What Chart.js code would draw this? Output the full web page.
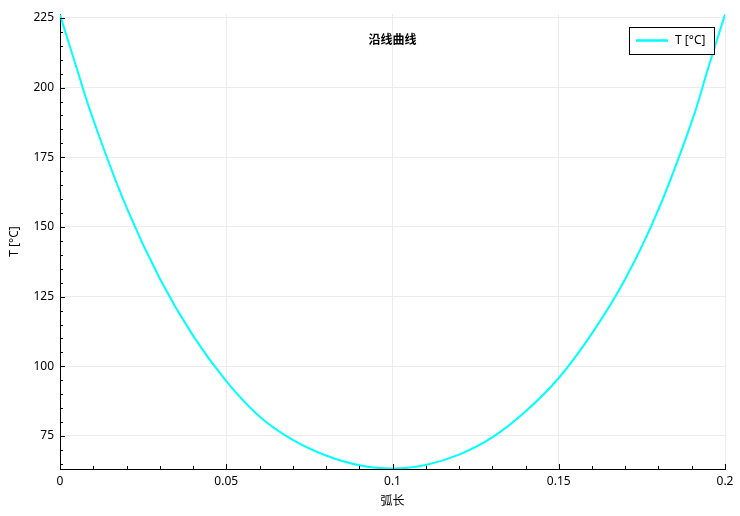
<!DOCTYPE html>
<html><head><meta charset="utf-8">
<script src="https://cdn.jsdelivr.net/npm/chart.js@4/dist/chart.umd.min.js"></script>
<style>html,body{margin:0;padding:0;background:#fff}#wrap{width:740px;height:516px;position:relative}</style>
</head><body><div id="wrap"><canvas id="c" width="740" height="516"></canvas></div>
<script>
// ---- data ----
const arcLength   = [0, 0.005, 0.01, 0.02, 0.03, 0.04, 0.05, 0.06, 0.07, 0.08, 0.09, 0.10,
                     0.11, 0.12, 0.13, 0.14, 0.15, 0.16, 0.17, 0.18, 0.19, 0.195, 0.20];
const temperature = [226.2, 207.0, 188.5, 157.0, 131.5, 111.0, 94.7, 82.0, 73.6, 68.0, 64.5, 63.3,
                     64.6, 68.3, 74.5, 83.8, 95.8, 111.8, 131.3, 156.3, 187.8, 207.2, 226.2];
const xTicks = [0, 0.05, 0.1, 0.15, 0.2];
const yTicks = [75, 100, 125, 150, 175, 200, 225];
const xMinorTicks = [0.01, 0.02, 0.03, 0.04, 0.06, 0.07, 0.08, 0.09, 0.11, 0.12, 0.13, 0.14, 0.16, 0.17, 0.18, 0.19];
const yMinorTicks = [65, 70, 80, 85, 90, 95, 105, 110, 115, 120, 130, 135, 140, 145, 155, 160, 165, 170, 180, 185, 190, 195, 205, 210, 215, 220];
const chartTitle = '沿线曲线';
const seriesName = 'T [°C]';
const xTitle = '弧长';
const yTitle = 'T [°C]';
const xRange = [0, 0.2];
const yRange = [63.16, 226.4];

const FONT = '"Noto Sans", "Noto Sans CJK SC", sans-serif';
Chart.defaults.font.family = FONT;
Chart.defaults.font.size = 12;
Chart.defaults.color = '#000';

const decor = {
  id: 'decor',
  afterDatasetsDraw(chart) {
    const ctx = chart.ctx, a = chart.chartArea;
    const xs = chart.scales.x, ys = chart.scales.y;
    ctx.save();
    ctx.strokeStyle = '#000';
    ctx.lineWidth = 1;
    ctx.beginPath();
    const xt = (v, len) => { const p = Math.round(xs.getPixelForValue(v)) + 0.5; ctx.moveTo(p, a.bottom); ctx.lineTo(p, a.bottom - len); };
    const yt = (v, len) => { const p = Math.round(ys.getPixelForValue(v)) + 0.5; ctx.moveTo(a.left, p); ctx.lineTo(a.left + len, p); };
    xTicks.forEach(v => xt(v, 5)); xMinorTicks.forEach(v => xt(v, 3));
    yTicks.forEach(v => yt(v, 5)); yMinorTicks.forEach(v => yt(v, 3));
    ctx.stroke();

    // title
    ctx.fillStyle = '#000';
    ctx.font = 'bold 12px "Noto Sans CJK SC", sans-serif';
    ctx.textAlign = 'center'; ctx.textBaseline = 'middle';
    ctx.fillText(chartTitle, (a.left + a.right) / 2, 39);

    // legend
    const lx = 629.5, ly = 27.5, lw = 85, lh = 27;
    ctx.fillStyle = '#fff';
    ctx.fillRect(lx, ly, lw, lh);
    ctx.strokeStyle = '#000';
    ctx.strokeRect(lx, ly, lw, lh);
    ctx.strokeStyle = '#00ffff';
    ctx.lineWidth = 2.5;
    ctx.beginPath(); ctx.moveTo(636, 40.5); ctx.lineTo(668, 40.5); ctx.stroke();
    ctx.fillStyle = '#000';
    ctx.font = '12px ' + FONT;
    ctx.textAlign = 'left';
    ctx.fillText(seriesName, 675, 41);
    ctx.restore();
  }
};

new Chart(document.getElementById('c'), {
  type: 'line',
  data: {
    datasets: [{
      label: seriesName,
      data: arcLength.map((x, i) => ({ x, y: temperature[i] })),
      borderColor: '#00ffff',
      borderWidth: 2,
      pointRadius: 0,
      fill: false,
      tension: 0.4
    }]
  },
  options: {
    responsive: false,
    animation: false,
    devicePixelRatio: 1,
    layout: { padding: { top: 14, right: 15, left: 0, bottom: 0 } },
    plugins: { legend: { display: false }, title: { display: false }, tooltip: { enabled: false } },
    scales: {
      x: {
        type: 'linear', min: xRange[0], max: xRange[1],
        afterBuildTicks: s => { s.ticks = xTicks.map(v => ({ value: v })); },
        afterFit: s => { s.height = 47; },
        ticks: { padding: 5, maxRotation: 0, autoSkip: false, callback: v => String(v), color: '#000' },
        grid: { color: '#ececec', drawTicks: false, lineWidth: 1 },
        border: { color: '#000', width: 1 },
        title: { display: true, text: xTitle, color: '#000', font: { size: 12, family: FONT }, padding: { top: 0, bottom: 7 } }
      },
      y: {
        type: 'linear', min: yRange[0], max: yRange[1],
        afterBuildTicks: s => { s.ticks = yTicks.map(v => ({ value: v })); },
        afterFit: s => { s.width = 60; },
        ticks: { padding: 6, autoSkip: false, color: '#000' },
        grid: { color: '#ececec', drawTicks: false, lineWidth: 1 },
        border: { color: '#000', width: 1 },
        title: { display: true, text: yTitle, color: '#000', font: { size: 12, family: FONT }, padding: { top: 7, bottom: 0 } }
      }
    }
  },
  plugins: [decor]
});
</script></body></html>
